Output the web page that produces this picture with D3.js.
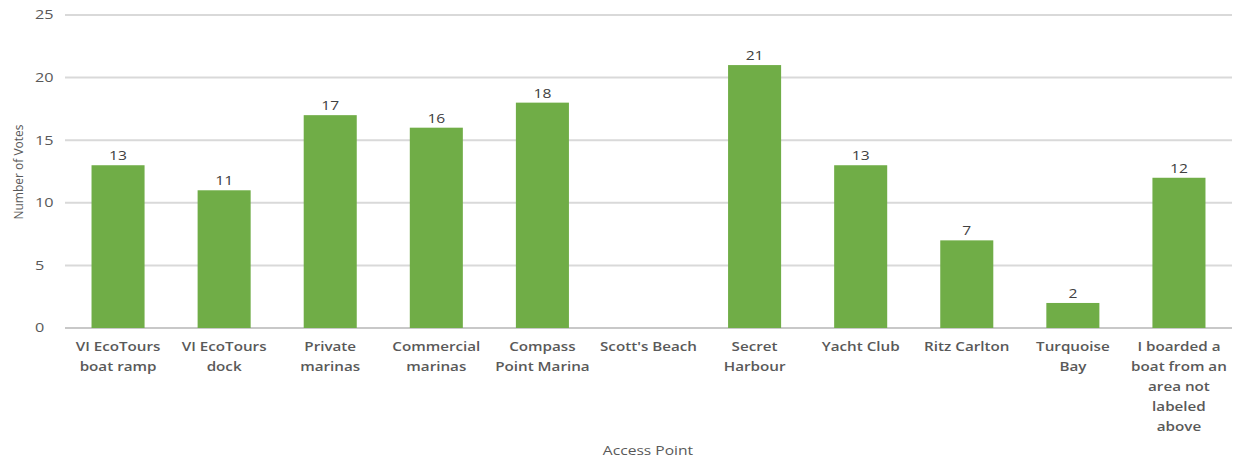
<!DOCTYPE html>
<html>
<head>
<meta charset="utf-8">
<script src="https://cdn.jsdelivr.net/npm/d3@7"></script>
<style>
  html, body { margin: 0; padding: 0; background: #fff; }
  svg text { font-family: "Open Sans", "Noto Sans", sans-serif; }
</style>
</head>
<body>
<svg id="chart" width="1235" height="459"></svg>
<script>
// Access points and the number of votes each one received
const categories = [
  ["VI EcoTours", "boat ramp"],
  ["VI EcoTours", "dock"],
  ["Private", "marinas"],
  ["Commercial", "marinas"],
  ["Compass", "Point Marina"],
  ["Scott's Beach"],
  ["Secret", "Harbour"],
  ["Yacht Club"],
  ["Ritz Carlton"],
  ["Turquoise", "Bay"],
  ["I boarded a", "boat from an", "area not", "labeled", "above"]
];
const votes = [13, 11, 17, 16, 18, 0, 21, 13, 7, 2, 12];
const yTicks = [0, 5, 10, 15, 20, 25];

const svg = d3.select("#chart");
const plot = { left: 65, right: 1232, top: 15, bottom: 328 };
// glyphs are drawn slightly wide
const stretch = (px, py, s) => `translate(${px},${py}) scale(${s},1)`;

const x = d3.scaleBand()
  .domain(d3.range(categories.length))
  .range([plot.left, plot.right])
  .paddingInner(0.5)
  .paddingOuter(0.25);

const y = d3.scaleLinear().domain([0, 25]).range([plot.bottom, plot.top]);

// horizontal gridlines
svg.append("g")
  .selectAll("line")
  .data(yTicks)
  .join("line")
  .attr("x1", plot.left).attr("x2", plot.right)
  .attr("y1", d => y(d)).attr("y2", d => y(d))
  .attr("stroke", d => d === 0 ? "#c8c8c8" : "#d9d9d9")
  .attr("stroke-width", 2);

// y tick labels
svg.append("g")
  .selectAll("text")
  .data(yTicks)
  .join("text")
  .attr("transform", d => stretch(35, y(d), 1.3))
  .attr("dy", "0.35em")
  .attr("font-size", 12.5)
  .attr("fill", "#595959")
  .text(d => d);

// bars
svg.append("g")
  .selectAll("rect")
  .data(votes)
  .join("rect")
  .attr("x", (d, i) => x(i))
  .attr("width", x.bandwidth())
  .attr("y", d => y(d))
  .attr("height", d => y(0) - y(d))
  .attr("fill", "#70ad47");

// value labels
svg.append("g")
  .selectAll("text")
  .data(votes.map((v, i) => ({ v, i })).filter(d => d.v > 0))
  .join("text")
  .attr("transform", d => stretch(x(d.i) + x.bandwidth() / 2, y(d.v) - 5, 1.25))
  .attr("text-anchor", "middle")
  .attr("font-size", 12.5)
  .attr("fill", "#404040")
  .text(d => d.v);

// category labels
const catG = svg.append("g");
categories.forEach((lines, i) => {
  const cx = x(i) + x.bandwidth() / 2;
  const t = catG.append("text")
    .attr("transform", stretch(cx, 351, 1.17))
    .attr("text-anchor", "middle")
    .attr("font-size", 13)
    .attr("font-weight", 600)
    .attr("fill", "#595959");
  lines.forEach((ln, j) => {
    t.append("tspan")
      .attr("x", 0)
      .attr("dy", j === 0 ? 0 : 20)
      .text(ln);
  });
});

// axis titles
svg.append("text")
  .attr("transform", stretch(648, 455, 1.3))
  .attr("text-anchor", "middle")
  .attr("font-size", 12)
  .attr("fill", "#595959")
  .text("Access Point");

svg.append("text")
  .attr("transform", "translate(23,172) rotate(-90)")
  .attr("text-anchor", "middle")
  .attr("font-size", 12)
  .attr("fill", "#595959")
  .text("Number of Votes");
</script>
</body>
</html>
